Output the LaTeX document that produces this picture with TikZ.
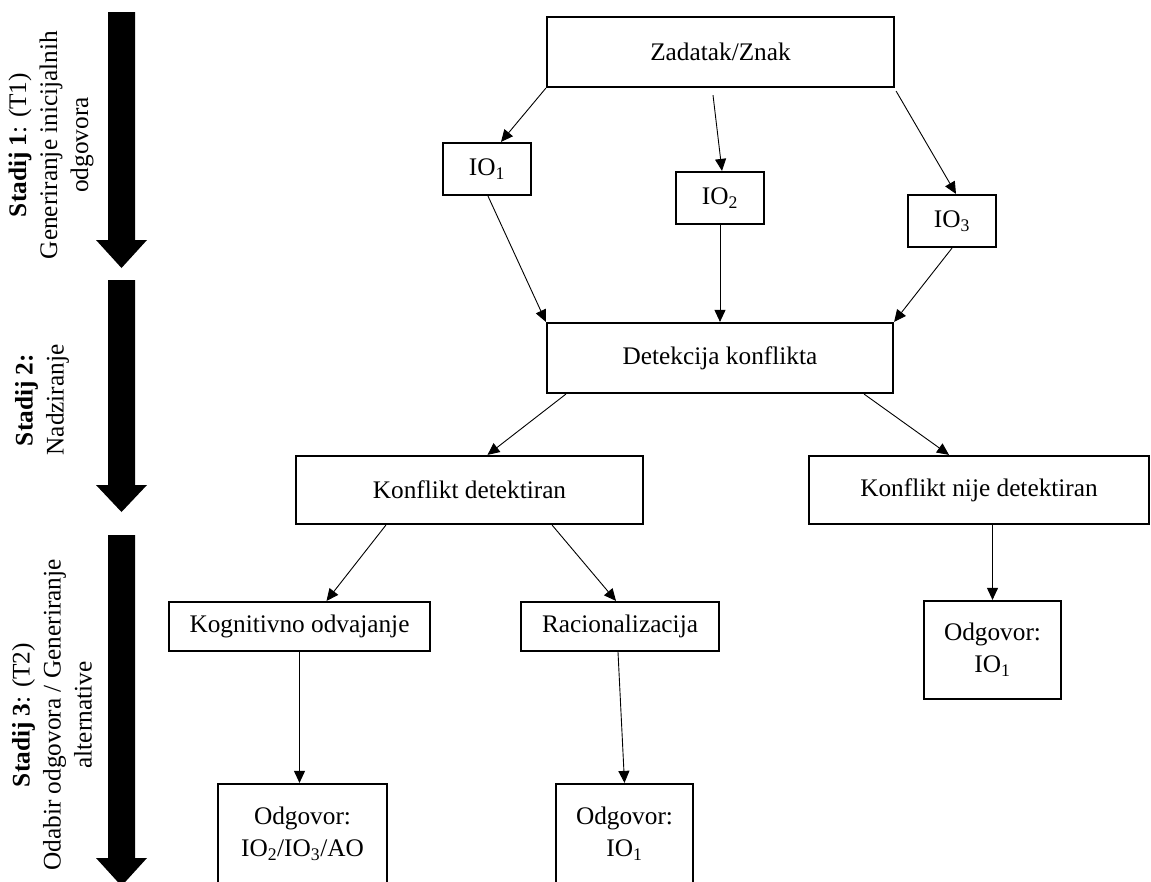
\documentclass[tikz,border=0pt]{standalone}
\usepackage{fontspec}
\setmainfont{Liberation Serif}
\usetikzlibrary{arrows.meta, calc}

\begin{document}
\begin{tikzpicture}[x=1pt, y=-1pt, >={Triangle[length=12pt, width=11pt]},
  box/.style={draw, line width=2.2pt, inner sep=0pt, align=center, font=\fontsize{25.3}{32}\selectfont},
  flow/.style={->, line width=0.9pt},
  stagelabel/.style={rotate=90, align=center, font=\fontsize{25.3}{31}\selectfont}]

\clip (0,0) rectangle (1151,881);

% Stage arrows on the left
\fill (108,12) -- (135,12) -- (135,240) -- (147,240) -- (121.5,268) -- (96,240) -- (108,240) -- cycle;
\fill (108,280) -- (135,280) -- (135,485) -- (147,485) -- (121.5,512) -- (96,485) -- (108,485) -- cycle;
\fill (108,535) -- (135,535) -- (135,858) -- (147,858) -- (121.5,886) -- (96,858) -- (108,858) -- cycle;

% Stage labels
\node[stagelabel] (stadij1) at (51, 145) {\textbf{Stadij 1}: (T1)\\Generiranje inicijalnih\\odgovora};
\node[stagelabel] (stadij2) at (42, 400) {\textbf{Stadij 2:}\\Nadziranje};
\node[stagelabel] (stadij3) at (52, 715) {\textbf{Stadij 3}: (T2)\\Odabir odgovora / Generiranje\\alternative};

% Task and initial responses
\node[box, minimum width=347pt, minimum height=70pt] (zadatak) at (720.5, 52) {Zadatak/Znak};
\node[box, minimum width=88pt, minimum height=52pt] (io1) at (487, 169) {IO\textsubscript{1}};
\node[box, minimum width=88pt, minimum height=52pt] (io2) at (720, 198) {IO\textsubscript{2}};
\node[box, minimum width=88pt, minimum height=52pt] (io3) at (952, 221) {IO\textsubscript{3}};

% Monitoring
\node[box, minimum width=346pt, minimum height=70pt] (detekcija) at (720, 358) {Detekcija konflikta};
\node[box, minimum width=347pt, minimum height=68pt] (detektiran) at (469.5, 490) {Konflikt detektiran};
\node[box, minimum width=340pt, minimum height=68pt] (nijedetektiran) at (979, 490) {Konflikt nije detektiran};

% Response selection
\node[box, minimum width=261pt, minimum height=49pt] (odvajanje) at (299.5, 626.5) {Kognitivno odvajanje};
\node[box, minimum width=198pt, minimum height=49pt] (racionalizacija) at (620, 626.5) {Racionalizacija};
\node[box, minimum width=137pt, minimum height=98pt] (odgovornije) at (992.5, 650) {Odgovor:\\IO\textsubscript{1}};
\node[box, minimum width=169pt, minimum height=100pt] (odgovorodv) at (302.5, 834) {Odgovor:\\IO\textsubscript{2}/IO\textsubscript{3}/AO};
\node[box, minimum width=137pt, minimum height=100pt] (odgovorrac) at (624.5, 834) {Odgovor:\\IO\textsubscript{1}};

% Arrows between boxes
\draw[flow] (zadatak.south west) -- ($(io1.north)+(14,0)$);
\draw[flow] ($(zadatak.south)+(-7.5,7)$) -- ($(io2.north)+(2,0)$);
\draw[flow] ($(zadatak.south east)+(1,3)$) -- ($(io3.north)+(4,0)$);
\draw[flow] ($(io1.south)+(1,0)$) -- (detekcija.north west);
\draw[flow] (io2.south) -- (detekcija.north);
\draw[flow] (io3.south) -- (detekcija.north east);
\draw[flow] ($(detekcija.south west)+(20,0)$) -- ($(detektiran.north)+(18,0)$);
\draw[flow] ($(detekcija.south east)+(-30,0)$) -- ($(nijedetektiran.north)+(-30,0)$);
\draw[flow] ($(detektiran.south west)+(91,0)$) -- ($(odvajanje.north)+(27,0)$);
\draw[flow] ($(detektiran.south east)+(-92,0)$) -- ($(racionalizacija.north)+(-4,0)$);
\draw[flow] (odgovornije.north |- nijedetektiran.south) -- (odgovornije.north);
\draw[flow] (odvajanje.south) -- (odvajanje.south |- odgovorodv.north);
\draw[flow] ($(racionalizacija.south)+(-2,0)$) -- (odgovorrac.north);

\end{tikzpicture}
\end{document}
